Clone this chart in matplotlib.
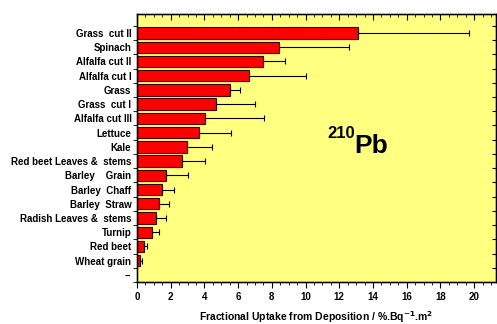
import numpy as np
import matplotlib; matplotlib.use("Agg")
import matplotlib.pyplot as plt
from matplotlib.ticker import MultipleLocator

plt.rcParams['font.family'] = ['Liberation Sans', 'DejaVu Sans']
plt.rcParams['font.weight'] = 'bold'

crops = ['Grass  cut II', 'Spinach', 'Alfalfa cut II', 'Alfalfa cut I', 'Grass',
         'Grass  cut I', 'Alfalfa cut III', 'Lettuce', 'Kale',
         'Red beet Leaves &  stems', 'Barley    Grain', 'Barley  Chaff',
         'Barley  Straw', 'Radish Leaves &  stems', 'Turnip', 'Red beet',
         'Wheat grain', '--']
uptake = [13.13, 8.41, 7.48, 6.67, 5.5, 4.67, 4.02, 3.70, 2.99, 2.69, 1.70,
          1.48, 1.31, 1.15, 0.87, 0.40, 0.18, 0.0]
upper = [19.7, 12.58, 8.8, 10.0, 6.11, 7.0, 7.52, 5.56, 4.43, 4.02, 3.05,
         2.18, 1.92, 1.70, 1.29, 0.57, 0.28, 0.0]

val = np.array(uptake)
err = np.array(upper) - val
y = np.arange(len(crops))[::-1]
ylim = (-0.5, 18.37)
xlim = (0, 21.3)
bounds = np.arange(-0.5, 17.6, 1)

fig = plt.figure(figsize=(4.97, 3.24), dpi=100)
ax = fig.add_axes([0.2757, 0.1296, 0.7223, 0.8287])
ax.set_facecolor('#ffff80')

show = val > 0
ax.barh(y[show], val[show], height=0.8, color='#ff0000', edgecolor='#400000', linewidth=0.8)
ax.errorbar(val[show], y[show], xerr=[np.zeros(show.sum()), err[show]], fmt='none',
            ecolor='black', elinewidth=0.8, capsize=2.5, capthick=0.8)

ax.set_xlim(*xlim)
ax.set_ylim(*ylim)
ax.xaxis.set_major_locator(MultipleLocator(2))
ax.xaxis.set_minor_locator(MultipleLocator(0.5))
ax.set_yticks(y)
ax.set_yticklabels(crops, fontsize=7, fontweight='bold')
ax.set_yticks(bounds, minor=True)
ax.tick_params(axis='y', which='major', length=0, pad=4)
ax.tick_params(axis='y', which='minor', length=3, direction='out')
ax.tick_params(axis='x', which='both', labelsize=7, direction='out')
ax.tick_params(axis='x', which='major', length=4)
ax.tick_params(axis='x', which='minor', length=2)
for t in ax.get_xticklabels():
    t.set_fontweight('bold')
for s in ax.spines.values():
    s.set_linewidth(1.0)

# inward ticks on the top and right sides
axr = ax.twinx()
axr.set_ylim(*ylim)
axr.set_yticks(bounds)
axr.tick_params(axis='y', direction='in', length=3, labelright=False)
axt = ax.twiny()
axt.set_xlim(*xlim)
axt.xaxis.set_major_locator(MultipleLocator(2))
axt.xaxis.set_minor_locator(MultipleLocator(0.5))
axt.tick_params(axis='x', which='both', direction='in', labeltop=False)
axt.tick_params(axis='x', which='major', length=4)
axt.tick_params(axis='x', which='minor', length=2)

ax.set_xlabel('Fractional Uptake from Deposition / %.Bq$^{\\mathbf{-1}}$.m$^{\\mathbf{2}}$',
              fontsize=7.5, fontweight='bold', labelpad=5)

ax.text(12.94, 9.62, '210', fontsize=12, fontweight='bold', ha='right', va='baseline')
ax.text(12.88, 8.57, 'Pb', fontsize=19, fontweight='bold', ha='left', va='baseline')

fig.savefig('out.png', dpi=100)
